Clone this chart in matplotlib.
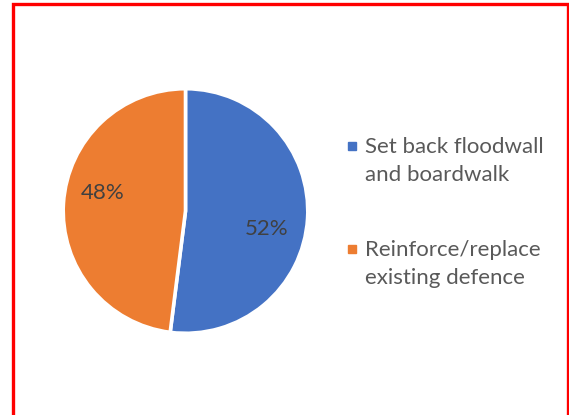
import matplotlib
matplotlib.use("Agg")
import numpy as np
import matplotlib.pyplot as plt
from matplotlib.patches import Rectangle
from matplotlib.lines import Line2D
from matplotlib.legend_handler import HandlerLine2D

categories = ["Set back floodwall\nand boardwalk", "Reinforce/replace\nexisting defence"]
shares = [52, 48]
colors = ["#4472C4", "#ED7D31"]
pct_labels = ["52%", "48%"]

W, H = 569, 415
DPI = 100
plt.rcParams["font.family"] = ["Lato", "DejaVu Sans"]


class FirstLineMarker(HandlerLine2D):
    """Legend marker aligned with the first line of a two-line label."""

    def __init__(self, shift, **kw):
        super().__init__(**kw)
        self.shift = shift

    def create_artists(self, legend, orig_handle, xdescent, ydescent,
                       width, height, fontsize, trans):
        artists = super().create_artists(legend, orig_handle, xdescent,
                                         ydescent, width, height, fontsize,
                                         trans)
        for a in artists:
            a.set_ydata(np.asarray(a.get_ydata()) + self.shift)
        return artists


fig = plt.figure(figsize=(W / DPI, H / DPI), dpi=DPI)
fig.patch.set_facecolor("white")

# pie axes (pixel geometry converted to figure fractions)
cx, cy, r = 185.5, 211.0, 122.3
ax = fig.add_axes([(cx - r) / W, 1 - (cy + r) / H, 2 * r / W, 2 * r / H])
wedges, _ = ax.pie(shares, colors=colors, startangle=90, counterclock=False,
                   radius=1.0,
                   wedgeprops=dict(edgecolor="white", linewidth=2.6))
ax.set_xlim(-1, 1)
ax.set_ylim(-1, 1)
ax.set_aspect("auto")
ax.axis("off")

# percentage labels inside the slices
label_pos = [(0.667, -0.147), (-0.675, 0.147)]
for txt, (lx, ly) in zip(pct_labels, label_pos):
    ax.text(lx, ly, txt, ha="center", va="center", fontsize=16,
            color="#404040")

# legend
handles = [Line2D([0], [0], marker="s", linestyle="none", markersize=5.6,
                  markerfacecolor=c, markeredgecolor=c) for c in colors]
leg = fig.legend(handles, categories, loc="upper left",
                 bbox_to_anchor=(345 / W, 1 - 137 / H),
                 frameon=False, fontsize=16, labelspacing=2.45,
                 handlelength=0.6, handletextpad=0.3, borderpad=0,
                 borderaxespad=0, labelcolor="#595959",
                 handler_map={Line2D: FirstLineMarker(shift=11.0)})
for t in leg.get_texts():
    t.set_linespacing(1.52)

# red frame around the chart
fig.add_artist(Rectangle((12.5 / W, -0.05), (567.5 - 12.5) / W, 1.05 - 4 / H,
                         transform=fig.transFigure, fill=False,
                         edgecolor="#FF0000", linewidth=2.4))

fig.savefig("out.png", dpi=DPI, facecolor="white")
